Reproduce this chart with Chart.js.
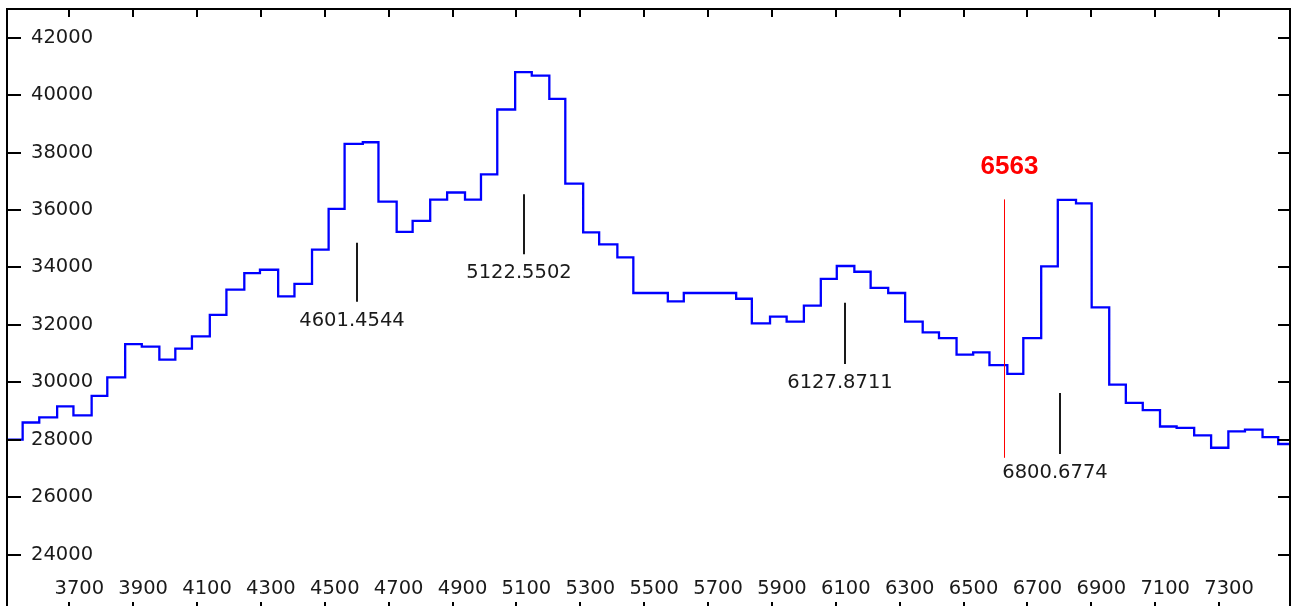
<!DOCTYPE html>
<html>
<head>
<meta charset="utf-8">
<script src="https://cdn.jsdelivr.net/npm/chart.js@4.4.1/dist/chart.umd.min.js"></script>
<style>
  html, body { margin: 0; padding: 0; background: #fff; overflow: hidden; }
  #wrap { width: 1292px; height: 606px; overflow: hidden; }
  canvas { display: block; }
</style>
</head>
<body>
<div id="wrap"><canvas id="cSpec" width="1292" height="620"></canvas></div>
<script>
// ── Datos del espectro (inicio de cada bin, flujo) ───────────
const WAVE = [3505, 3554, 3606, 3662, 3713, 3770, 3819, 3875, 3927, 3982,
  4032, 4084, 4140, 4192, 4248, 4297, 4354, 4405, 4460, 4512,
  4562, 4619, 4668, 4725, 4775, 4830, 4883, 4939, 4989, 5040,
  5096, 5148, 5203, 5253, 5309, 5359, 5416, 5466, 5520, 5574,
  5624, 5679, 5733, 5788, 5837, 5894, 5946, 6000, 6053, 6103,
  6158, 6209, 6264, 6317, 6372, 6423, 6478, 6530, 6581, 6637,
  6687, 6743, 6795, 6852, 6901, 6956, 7008, 7061, 7115, 7167,
  7222, 7275, 7329, 7381, 7436, 7485, 7522];
const FLUX = [28000, 28600, 28780, 29160, 28850, 29530, 30170, 31330, 31240, 30790,
  31170, 31600, 32345, 33225, 33800, 33920, 32990, 33425, 34620, 36040,
  38300, 38360, 36290, 35240, 35620, 36360, 36610, 36360, 37240, 39500,
  40800, 40680, 39870, 36920, 35220, 34800, 34350, 33110, 33110, 32820,
  33110, 33110, 33110, 32910, 32050, 32290, 32110, 32670, 33600, 34050,
  33850, 33290, 33110, 32110, 31740, 31540, 30960, 31040, 30600, 30290,
  31540, 34040, 36350, 36230, 32610, 29920, 29280, 29030, 28460, 28410,
  28150, 27720, 28290, 28350, 28090, 27850, 27850];

// Rango de ejes
const X_MIN = 3505, X_MAX = 7522;
const Y_MIN = 22000, Y_MAX = 43000;

// ── Marcadores de líneas identificadas ───────────────────────
const MARK_X = [4601.4544, 5122.5502, 6127.8711, 6800.6774];
const MARK_TOP = [34860, 36550, 32770, 29630];
const MARK_BOT = [32805, 34455, 30640, 27505];

// Línea de referencia (H-alfa)
const REF_X = 6627;
const REF_TOP = 36370, REF_BOT = 27370;
const REF_LBL = '6563';
const REF_LBL_Y = 37500;

const FONT = '"DejaVu Sans", Verdana, sans-serif';

// ── Marco, ticks hacia dentro y anotaciones ──────────────────
const frameTicks = {
  id: 'frameTicks',
  afterDatasetsDraw(chart) {
    const { ctx, scales: { x, y } } = chart;
    ctx.save();
    // marcadores negros
    ctx.strokeStyle = '#1a1a1a';
    ctx.lineWidth = 2;
    ctx.fillStyle = '#1a1a1a';
    ctx.font = '19.5px ' + FONT;
    ctx.textAlign = 'center';
    ctx.textBaseline = 'middle';
    MARK_X.forEach((w, i) => {
      const px = Math.round(x.getPixelForValue(w));
      const yb = y.getPixelForValue(MARK_BOT[i]);
      ctx.beginPath();
      ctx.moveTo(px, y.getPixelForValue(MARK_TOP[i]));
      ctx.lineTo(px, yb);
      ctx.stroke();
      ctx.fillText(w.toFixed(4), px - 5, yb + 19);
    });
    // línea roja
    const rx = Math.round(x.getPixelForValue(REF_X)) + 0.5;
    ctx.strokeStyle = '#ff0000';
    ctx.lineWidth = 1;
    ctx.beginPath();
    ctx.moveTo(rx, y.getPixelForValue(REF_TOP));
    ctx.lineTo(rx, y.getPixelForValue(REF_BOT));
    ctx.stroke();
    ctx.fillStyle = '#ff0000';
    ctx.font = 'bold 26px "Liberation Sans", Arial, sans-serif';
    ctx.fillText(REF_LBL, rx + 5, y.getPixelForValue(REF_LBL_Y));
    ctx.restore();
  },
  afterDraw(chart) {
    const { ctx, chartArea: a, scales: { x, y } } = chart;
    ctx.save();
    ctx.strokeStyle = '#000';
    ctx.lineWidth = 2;
    ctx.strokeRect(a.left, a.top, a.right - a.left, a.bottom - a.top);
    ctx.beginPath();
    x.ticks.forEach(t => {
      if (t.value % 100 !== 0) return;
      const px = Math.round(x.getPixelForValue(t.value));
      const major = (t.value - 3500) % 200 === 0;
      ctx.moveTo(px, a.top); ctx.lineTo(px, a.top + (major ? 8 : 4));
      ctx.moveTo(px, a.bottom); ctx.lineTo(px, a.bottom - (major ? 10 : 5));
    });
    y.ticks.forEach(t => {
      if (t.value % 1000 !== 0) return;
      const py = Math.round(y.getPixelForValue(t.value));
      const major = t.value % 2000 === 0;
      ctx.moveTo(a.left, py); ctx.lineTo(a.left + (major ? 14 : 6), py);
      ctx.moveTo(a.right, py); ctx.lineTo(a.right - (major ? 12 : 4), py);
    });
    ctx.stroke();
    ctx.restore();
  }
};

// ── Gráfico ──────────────────────────────────────────────────
const points = WAVE.map((w, i) => ({ x: w, y: FLUX[i] }));

new Chart(document.getElementById('cSpec').getContext('2d'), {
  type: 'line',
  data: {
    datasets: [{
      data: points,
      stepped: 'before',
      borderColor: '#0000ff', borderWidth: 2.3,
      pointRadius: 0, fill: false
    }]
  },
  options: {
    responsive: false, animation: false, devicePixelRatio: 1,
    layout: { padding: { top: 9, right: 2, bottom: 0, left: 0 } },
    plugins: { legend: { display: false }, tooltip: { enabled: false } },
    scales: {
      x: {
        type: 'linear', min: X_MIN, max: X_MAX,
        grid: { display: false, drawTicks: false }, border: { display: false },
        afterFit: s => { s.height = 8; s.paddingLeft = 0; s.paddingRight = 0; },
        ticks: {
          stepSize: 100, autoSkip: false, maxRotation: 0, mirror: true,
          padding: 11, labelOffset: 10, color: '#1a1a1a',
          font: { family: FONT, size: 19.5, lineHeight: 1.2 },
          callback: v => (v % 200 === 100 && v >= 3700 && v <= 7300) ? String(v) : null
        }
      },
      y: {
        min: Y_MIN, max: Y_MAX,
        grid: { display: false, drawTicks: false }, border: { display: false },
        afterFit: s => { s.width = 7; s.paddingTop = 0; s.paddingBottom = 0; },
        ticks: {
          stepSize: 1000, autoSkip: false, mirror: true, padding: 24, color: '#1a1a1a',
          font: { family: FONT, size: 19.5 },
          callback: v => (v % 2000 === 0 && v >= 24000 && v <= 42000) ? String(v) : null
        }
      }
    }
  },
  plugins: [frameTicks]
});
</script>
</body>
</html>
